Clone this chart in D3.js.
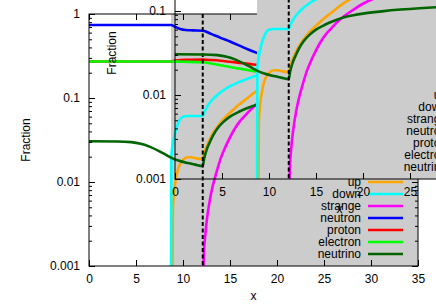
<!DOCTYPE html>
<html>
<head>
<meta charset="utf-8">
<script src="https://cdn.jsdelivr.net/npm/d3@7"></script>
<style>
  body { margin: 0; background: #fff; }
  svg { display: block; font-family: "Liberation Sans", Arial, sans-serif; font-size: 12px; }
</style>
</head>
<body>
<svg id="chart" width="436" height="305"></svg>
<script>
// axis ticks
const xTicks = [0, 5, 10, 15, 20, 25, 30, 35];
const yTicks = [0.001, 0.01, 0.1, 1];
const yTickLabels = ["0.001", "0.01", "0.1", "1"];

// phase boundaries (shaded region start, dashed line)
const grayStart = 8.72;
const dashedAt = 12.1;

// series
const upX = [8.85, 8.92, 9.05, 9.25, 9.5, 9.8, 10.1, 10.5, 10.9, 11.4, 12.1, 12.3, 12.6, 13, 13.5, 14, 14.5, 15, 15.5, 16, 16.5, 17, 17.5, 18, 18.5, 19, 20, 22, 25, 30, 35];
const upY = [0.0002, 0.0045, 0.0075, 0.011, 0.0145, 0.0172, 0.0188, 0.0197, 0.0197, 0.0191, 0.0188, 0.023, 0.028, 0.035, 0.043, 0.051, 0.059, 0.067, 0.075, 0.084, 0.093, 0.103, 0.114, 0.125, 0.135, 0.145, 0.16, 0.185, 0.22, 0.26, 0.29];

const downX = [8.72, 8.76, 8.85, 9, 9.2, 9.45, 9.7, 10, 10.5, 12.1, 12.3, 12.6, 13, 13.5, 14, 14.5, 15, 16, 17, 18, 20, 25, 30, 35];
const downY = [0.0002, 0.02, 0.026, 0.032, 0.04, 0.049, 0.056, 0.06, 0.061, 0.061, 0.069, 0.08, 0.092, 0.105, 0.117, 0.128, 0.138, 0.155, 0.172, 0.188, 0.21, 0.25, 0.28, 0.3];

const strangeX = [12.1, 12.2, 12.35, 12.6, 12.9, 13.2, 13.6, 14, 14.5, 15, 15.5, 16, 16.5, 17, 17.5, 18, 19, 20, 21, 22, 25, 30, 35];
const strangeY = [0.0002, 0.0012, 0.0022, 0.004, 0.0065, 0.0093, 0.0135, 0.019, 0.026, 0.034, 0.043, 0.052, 0.06, 0.069, 0.078, 0.087, 0.104, 0.122, 0.138, 0.15, 0.18, 0.23, 0.26];

const neutronX = [0, 8.72, 9.2, 9.7, 10.3, 11, 12.1, 13, 14, 15, 16, 17, 18, 20, 25, 30, 35];
const neutronY = [0.74, 0.74, 0.7, 0.665, 0.645, 0.638, 0.632, 0.58, 0.52, 0.47, 0.42, 0.375, 0.34, 0.29, 0.21, 0.17, 0.15];

const protonX = [0, 8.72, 9.2, 10.5, 12.1, 13, 14, 15, 16, 17, 18, 20, 25, 30, 35];
const protonY = [0.272, 0.272, 0.28, 0.285, 0.286, 0.283, 0.278, 0.27, 0.262, 0.255, 0.247, 0.235, 0.2, 0.18, 0.16];

const electronX = [0, 8.72, 10, 12.1, 13, 14, 15, 16, 17, 18, 20, 25, 30, 35];
const electronY = [0.272, 0.272, 0.27, 0.266, 0.258, 0.246, 0.234, 0.224, 0.214, 0.205, 0.195, 0.175, 0.16, 0.15];

const neutrinoX = [0, 3, 4.5, 5.5, 6.5, 7.5, 8.2, 8.72, 9.5, 10.5, 11.3, 12.1, 12.25, 12.5, 12.8, 13.2, 13.7, 14.3, 15, 16, 17, 18, 19, 20, 22, 24, 26, 28, 30, 35];
const neutrinoY = [0.0305, 0.0304, 0.0298, 0.0285, 0.0262, 0.0232, 0.021, 0.0195, 0.018, 0.0168, 0.0161, 0.0155, 0.019, 0.024, 0.029, 0.036, 0.044, 0.052, 0.06, 0.069, 0.077, 0.084, 0.089, 0.093, 0.099, 0.104, 0.108, 0.111, 0.113, 0.116];

const names = ["up", "down", "strange", "neutron", "proton", "electron", "neutrino"];
const colors = ["#ffa500", "#00ffff", "#ff00ff", "#0000ff", "#ff0000", "#00ff00", "#006400"];
const seriesX = [upX, downX, strangeX, neutronX, protonX, electronX, neutrinoX];
const seriesY = [upY, downY, strangeY, neutronY, protonY, electronY, neutrinoY];

const svg = d3.select("#chart");

const x = d3.scaleLinear().domain([0, 35]).range([89, 418]);
const y = d3.scaleLog().domain([0.001, 1]).range([266, 14]);

const minorTicks = [];
[0.001, 0.01, 0.1].forEach(d => { for (let m = 2; m <= 9; m++) minorTicks.push(d * m); });

const line = d3.line()
  .x(d => x(d[0]))
  .y(d => y(d[1]))
  .curve(d3.curveMonotoneX);

svg.append("defs").append("clipPath").attr("id", "plotClip")
  .append("rect")
  .attr("x", x(0)).attr("y", y(1))
  .attr("width", x(35) - x(0)).attr("height", y(0.001) - y(1));

function drawPanel(g) {
  // shaded region
  g.append("rect")
    .attr("x", x(grayStart)).attr("y", y(1))
    .attr("width", x(35) - x(grayStart))
    .attr("height", y(0.001) - y(1))
    .attr("fill", "#cccccc");

  const plot = g.append("g").attr("clip-path", "url(#plotClip)");
  names.forEach((n, i) => {
    plot.append("path")
      .datum(d3.zip(seriesX[i], seriesY[i]))
      .attr("d", line)
      .attr("fill", "none")
      .attr("stroke", colors[i])
      .attr("stroke-width", 2.6);
  });

  g.append("line")
    .attr("x1", x(dashedAt)).attr("x2", x(dashedAt))
    .attr("y1", y(1)).attr("y2", y(0.001))
    .attr("stroke", "#000")
    .attr("stroke-width", 2)
    .attr("stroke-dasharray", "4,2.5");

  // ticks (inward) on all four sides
  const fmt = d3.format("d");
  g.append("g").attr("transform", `translate(0,${y(0.001)})`)
    .call(d3.axisBottom(x).tickValues(xTicks).tickSize(-6).tickSizeOuter(0).tickPadding(8).tickFormat(fmt));
  g.append("g").attr("transform", `translate(0,${y(1)})`)
    .call(d3.axisTop(x).tickValues(xTicks).tickSize(-6).tickSizeOuter(0).tickFormat(""));
  g.append("g").attr("transform", `translate(${x(0)},0)`)
    .call(d3.axisLeft(y).tickValues(yTicks).tickSize(-6).tickSizeOuter(0).tickPadding(9)
      .tickFormat((d, i) => yTickLabels[i]));
  g.append("g").attr("transform", `translate(${x(0)},0)`)
    .call(d3.axisLeft(y).tickValues(minorTicks).tickSize(-3).tickSizeOuter(0).tickFormat(""));
  g.append("g").attr("transform", `translate(${x(35)},0)`)
    .call(d3.axisRight(y).tickValues(yTicks).tickSize(-6).tickSizeOuter(0).tickFormat(""));
  g.append("g").attr("transform", `translate(${x(35)},0)`)
    .call(d3.axisRight(y).tickValues(minorTicks).tickSize(-3).tickSizeOuter(0).tickFormat(""));

  g.selectAll(".domain").remove();
  g.selectAll(".tick line").attr("stroke", "#000");
  g.selectAll(".tick text")
    .attr("fill", "#000")
    .style("font-family", "'Liberation Sans', Arial, sans-serif")
    .style("font-size", "12px");

  g.append("rect")
    .attr("x", x(0)).attr("y", y(1))
    .attr("width", x(35) - x(0)).attr("height", y(0.001) - y(1))
    .attr("fill", "none")
    .attr("stroke", "#000")
    .attr("stroke-width", 1);

  g.append("text")
    .attr("transform", `translate(30,${(y(1) + y(0.001)) / 2}) rotate(-90)`)
    .attr("text-anchor", "middle")
    .text("Fraction");

  g.append("text")
    .attr("x", (x(0) + x(35)) / 2)
    .attr("y", 300)
    .attr("text-anchor", "middle")
    .text("x");

  // key, bottom right
  const key = g.append("g");
  names.forEach((n, i) => {
    const ky = y(0.001) - 84 + i * 12;
    key.append("text")
      .attr("x", x(35) - 57).attr("y", ky)
      .attr("dy", "0.35em")
      .attr("text-anchor", "end")
      .text(n);
    key.append("line")
      .attr("x1", x(35) - 50).attr("x2", x(35) - 15)
      .attr("y1", ky).attr("y2", ky)
      .attr("stroke", colors[i])
      .attr("stroke-width", 2.6);
  });
}

// full plot, then the same plot shifted up and to the right on top of it
drawPanel(svg.append("g"));
drawPanel(svg.append("g").attr("transform", "translate(86,-87)"));
</script>
</body>
</html>
